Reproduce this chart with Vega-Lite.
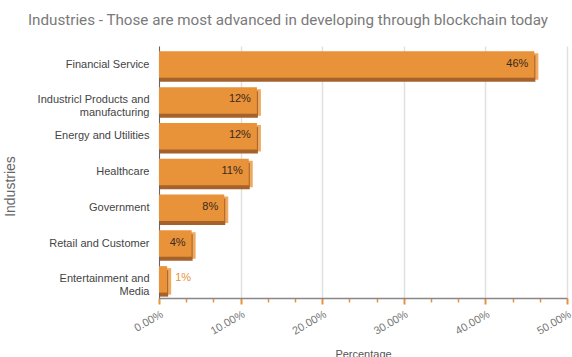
{
  "$schema": "https://vega.github.io/schema/vega-lite/v6.json",
  "autosize": "none",
  "width": 408,
  "height": 252,
  "padding": {"left": 159, "top": 46, "right": 5, "bottom": 59},
  "background": "white",
  "title": {
    "text": "Industries - Those are most advanced in developing through blockchain today",
    "fontSize": 15.2,
    "font": "Roboto",
    "fontWeight": "normal",
    "color": "#7a7a7a",
    "anchor": "middle",
    "dx": -75,
    "offset": 18
  },
  "data": {
    "values": [
      {"industry": "Financial Service", "value": 46},
      {"industry": "Industricl Products and|manufacturing", "value": 12},
      {"industry": "Energy and Utilities", "value": 12},
      {"industry": "Healthcare", "value": 11},
      {"industry": "Government", "value": 8},
      {"industry": "Retail and Customer", "value": 4},
      {"industry": "Entertainment and|Media", "value": 1}
    ]
  },
  "transform": [{"calculate": "datum.value + '%'", "as": "label"}],
  "config": {
    "view": {"stroke": null},
    "font": "Liberation Sans"
  },
  "encoding": {
    "y": {
      "field": "industry",
      "type": "nominal",
      "sort": null,
      "scale": {"paddingInner": 0.26, "paddingOuter": 0.15},
      "axis": {
        "title": "Industries",
        "titleFontSize": 14,
        "titleFontWeight": "normal",
        "titleColor": "#666666",
        "titleX": -142,
        "titleY": 140,
        "labelExpr": "split(datum.value, '|')",
        "labelFontSize": 11,
        "labelColor": "#444444",
        "labelPadding": 10,
        "labelLineHeight": 13,
        "ticks": false,
        "domainColor": "#666666",
        "domainWidth": 1
      }
    },
    "x": {
      "field": "value",
      "type": "quantitative",
      "scale": {"domain": [0, 50]},
      "axis": {
        "title": "Percentage",
        "titleFontSize": 11,
        "titleFontWeight": "normal",
        "titleColor": "#555555",
        "titlePadding": 12,
        "values": [0, 3.333, 6.667, 10, 13.333, 16.667, 20, 23.333, 26.667, 30, 33.333, 36.667, 40, 43.333, 46.667, 50],
        "labelExpr": "abs(datum.value % 10) < 0.01 ? format(datum.value, '.2f') + '%' : ''",
        "labelAngle": -30,
        "labelAlign": "right",
        "labelBaseline": "top",
        "labelFontSize": 11,
        "labelColor": "#777777",
        "labelPadding": 4,
        "labelOverlap": false,
        "tickColor": "#E8923A",
        "tickWidth": {"condition": {"test": "abs(datum.value % 10) < 0.01", "value": 2}, "value": 1.5},
        "tickSize": {"condition": {"test": "abs(datum.value % 10) < 0.01", "value": 6}, "value": 4},
        "domainColor": "#888888",
        "domainWidth": 1.5,
        "grid": true,
        "gridColor": "#e0e0e0",
        "gridWidth": 1.5,
        "gridOpacity": {"condition": {"test": "abs(datum.value % 10) < 0.01", "value": 1}, "value": 0}
      }
    }
  },
  "layer": [
    {
      "mark": {"type": "bar", "color": "#EFAA62", "xOffset": 4, "yOffset": 2}
    },
    {
      "mark": {"type": "bar", "color": "#A5622A", "yOffset": 4, "xOffset": 1}
    },
    {
      "mark": {"type": "bar", "color": "#E8923A"}
    },
    {
      "transform": [{"filter": "datum.value >= 3"}],
      "mark": {"type": "text", "align": "right", "dx": -6, "dy": -1, "fontSize": 11, "color": "#3a2a1a"},
      "encoding": {
        "text": {"field": "label", "type": "nominal"}
      }
    },
    {
      "transform": [{"filter": "datum.value < 3"}],
      "mark": {"type": "text", "align": "left", "dx": 8, "dy": -1, "fontSize": 11, "color": "#E8923A"},
      "encoding": {
        "text": {"field": "label", "type": "nominal"}
      }
    }
  ]
}
